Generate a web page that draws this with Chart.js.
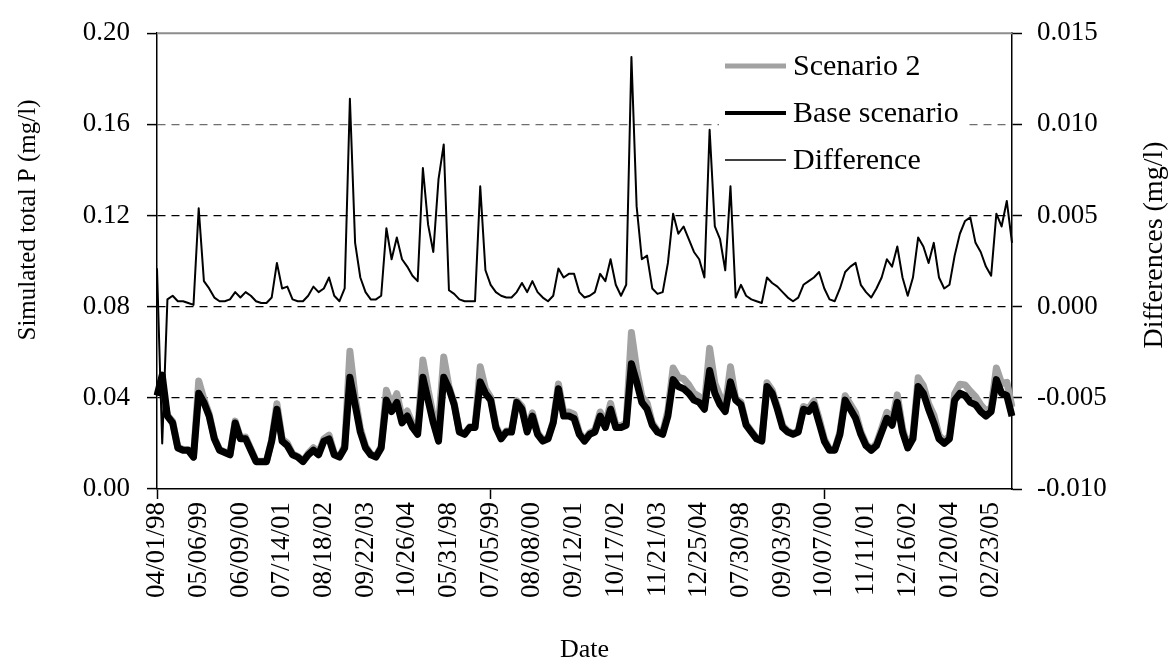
<!DOCTYPE html>
<html lang="en">
<head>
    <meta charset="UTF-8">
    <title>Simulated total P - Scenario 2 vs Base scenario</title>
    <script src="https://cdn.jsdelivr.net/npm/chart.js"></script>
    <style>
        body {
            margin: 0;
            background-color: #ffffff;
        }

        #chart-container {
            width: 1170px;
            height: 668px;
        }
    </style>
</head>
<body>

    <div id="chart-container">
        <canvas id="myChart" width="1170" height="668"></canvas>
    </div>

    <script>
        // labels shown every 8 points on the date axis
        var tickLabels = ['04/01/98', '05/06/99', '06/09/00', '07/14/01', '08/18/02', '09/22/03', '10/26/04',
            '05/31/98', '07/05/99', '08/08/00', '09/12/01', '10/17/02', '11/21/03', '12/25/04',
            '07/30/98', '09/03/99', '10/07/00', '11/11/01', '12/16/02', '01/20/04', '02/23/05'];
        var pointsPerTick = 8;

        // simulated total P, base scenario (mg/l)
        var baseScenario = [
            0.041, 0.050, 0.032, 0.029, 0.018, 0.017, 0.017, 0.014, 0.042, 0.038,
            0.032, 0.022, 0.017, 0.016, 0.015, 0.029, 0.022, 0.022, 0.017, 0.012,
            0.012, 0.012, 0.021, 0.035, 0.021, 0.019, 0.015, 0.014, 0.012, 0.015,
            0.017, 0.015, 0.021, 0.022, 0.015, 0.014, 0.018, 0.049, 0.037, 0.025,
            0.018, 0.015, 0.014, 0.018, 0.039, 0.034, 0.038, 0.029, 0.032, 0.027,
            0.024, 0.049, 0.039, 0.029, 0.021, 0.049, 0.044, 0.037, 0.025, 0.024,
            0.027, 0.027, 0.047, 0.042, 0.039, 0.027, 0.022, 0.025, 0.025, 0.038,
            0.035, 0.025, 0.032, 0.024, 0.021, 0.022, 0.029, 0.044, 0.032, 0.032,
            0.031, 0.024, 0.021, 0.024, 0.025, 0.032, 0.027, 0.035, 0.027, 0.027,
            0.028, 0.055, 0.047, 0.038, 0.035, 0.028, 0.025, 0.024, 0.032, 0.048,
            0.045, 0.044, 0.042, 0.039, 0.038, 0.035, 0.052, 0.042, 0.037, 0.034,
            0.047, 0.039, 0.037, 0.028, 0.025, 0.022, 0.021, 0.045, 0.042, 0.035,
            0.027, 0.025, 0.024, 0.025, 0.035, 0.034, 0.037, 0.029, 0.021, 0.017,
            0.017, 0.024, 0.039, 0.035, 0.031, 0.024, 0.019, 0.017, 0.019, 0.025,
            0.031, 0.028, 0.038, 0.025, 0.018, 0.022, 0.045, 0.042, 0.035, 0.029,
            0.022, 0.020, 0.022, 0.039, 0.042, 0.041, 0.038, 0.037, 0.034, 0.032,
            0.034, 0.048, 0.042, 0.041, 0.032
        ];

        // simulated total P, scenario 2 (mg/l)
        var scenario2 = [
            0.0431, 0.0425, 0.0324, 0.0296, 0.0183, 0.0173, 0.0172, 0.0141, 0.0474, 0.0394,
            0.0330, 0.0225, 0.0173, 0.0163, 0.0154, 0.0298, 0.0225, 0.0228, 0.0176, 0.0123,
            0.0122, 0.0122, 0.0215, 0.0374, 0.0220, 0.0201, 0.0154, 0.0143, 0.0123, 0.0156,
            0.0181, 0.0158, 0.0220, 0.0236, 0.0156, 0.0143, 0.0190, 0.0604, 0.0405, 0.0266,
            0.0188, 0.0154, 0.0144, 0.0186, 0.0433, 0.0366, 0.0418, 0.0316, 0.0342, 0.0287,
            0.0254, 0.0566, 0.0435, 0.0320, 0.0280, 0.0579, 0.0449, 0.0377, 0.0254, 0.0243,
            0.0273, 0.0273, 0.0536, 0.0440, 0.0402, 0.0278, 0.0226, 0.0255, 0.0255, 0.0388,
            0.0363, 0.0258, 0.0334, 0.0248, 0.0215, 0.0223, 0.0296, 0.0461, 0.0336, 0.0338,
            0.0328, 0.0248, 0.0215, 0.0246, 0.0258, 0.0338, 0.0284, 0.0376, 0.0282, 0.0276,
            0.0292, 0.0687, 0.0525, 0.0406, 0.0378, 0.0290, 0.0257, 0.0248, 0.0344, 0.0531,
            0.0490, 0.0484, 0.0457, 0.0420, 0.0406, 0.0366, 0.0617, 0.0464, 0.0407, 0.0360,
            0.0536, 0.0395, 0.0382, 0.0286, 0.0254, 0.0223, 0.0212, 0.0466, 0.0433, 0.0361,
            0.0278, 0.0255, 0.0243, 0.0255, 0.0362, 0.0354, 0.0386, 0.0309, 0.0220, 0.0174,
            0.0173, 0.0250, 0.0409, 0.0372, 0.0334, 0.0252, 0.0198, 0.0175, 0.0200, 0.0266,
            0.0336, 0.0302, 0.0413, 0.0266, 0.0186, 0.0236, 0.0488, 0.0453, 0.0374, 0.0325,
            0.0236, 0.0210, 0.0232, 0.0418, 0.0460, 0.0457, 0.0429, 0.0405, 0.0370, 0.0342,
            0.0357, 0.0531, 0.0464, 0.0468, 0.0360
        ];

        // scenario 2 minus base (mg/l), right axis
        var difference = [
            0.0021, -0.0075, 0.0004, 0.0006, 0.0003, 0.0003, 0.0002, 0.0001, 0.0054, 0.0014,
            0.0010, 0.0005, 0.0003, 0.0003, 0.0004, 0.0008, 0.0005, 0.0008, 0.0006, 0.0003,
            0.0002, 0.0002, 0.0005, 0.0024, 0.0010, 0.0011, 0.0004, 0.0003, 0.0003, 0.0006,
            0.0011, 0.0008, 0.0010, 0.0016, 0.0006, 0.0003, 0.0010, 0.0114, 0.0035, 0.0016,
            0.0008, 0.0004, 0.0004, 0.0006, 0.0043, 0.0026, 0.0038, 0.0026, 0.0022, 0.0017,
            0.0014, 0.0076, 0.0045, 0.0030, 0.0070, 0.0089, 0.0009, 0.0007, 0.0004, 0.0003,
            0.0003, 0.0003, 0.0066, 0.0020, 0.0012, 0.0008, 0.0006, 0.0005, 0.0005, 0.0008,
            0.0013, 0.0008, 0.0014, 0.0008, 0.0005, 0.0003, 0.0006, 0.0021, 0.0016, 0.0018,
            0.0018, 0.0008, 0.0005, 0.0006, 0.0008, 0.0018, 0.0014, 0.0026, 0.0012, 0.0006,
            0.0012, 0.0137, 0.0055, 0.0026, 0.0028, 0.0010, 0.0007, 0.0008, 0.0024, 0.0051,
            0.0040, 0.0044, 0.0037, 0.0030, 0.0026, 0.0016, 0.0097, 0.0044, 0.0037, 0.0020,
            0.0066, 0.0005, 0.0012, 0.0006, 0.0004, 0.0003, 0.0002, 0.0016, 0.0013, 0.0011,
            0.0008, 0.0005, 0.0003, 0.0005, 0.0012, 0.0014, 0.0016, 0.0019, 0.0010, 0.0004,
            0.0003, 0.0010, 0.0019, 0.0022, 0.0024, 0.0012, 0.0008, 0.0005, 0.0010, 0.0016,
            0.0026, 0.0022, 0.0033, 0.0016, 0.0006, 0.0016, 0.0038, 0.0033, 0.0024, 0.0035,
            0.0016, 0.0010, 0.0012, 0.0028, 0.0040, 0.0047, 0.0049, 0.0035, 0.0030, 0.0022,
            0.0017, 0.0051, 0.0044, 0.0058, 0.0035
        ];

        var fontFamily = "'Liberation Serif', 'Times New Roman', serif";

        // one category per point, only every 8th one gets a date
        var labels = baseScenario.map(function (v, i) {
            return i % pointsPerTick === 0 ? tickLabels[i / pointsPerTick] : '';
        });

        // legend box, axis titles and top frame
        var extrasPlugin = {
            id: 'extras',
            afterDatasetsDraw: function (chart) {
                var c = chart.ctx;
                var area = chart.chartArea;

                c.save();
                c.strokeStyle = '#8c8c8c';
                c.lineWidth = 2;
                c.beginPath();
                c.moveTo(area.left, area.top);
                c.lineTo(area.right, area.top);
                c.stroke();

                // legend
                c.fillStyle = '#ffffff';
                c.fillRect(719, 38, 248, 138);
                var entries = [
                    { ds: chart.data.datasets[0], w: 5 },
                    { ds: chart.data.datasets[1], w: 4 },
                    { ds: chart.data.datasets[2], w: 1.5 }
                ];
                c.font = '30px ' + fontFamily;
                c.textBaseline = 'middle';
                c.textAlign = 'left';
                entries.forEach(function (e, k) {
                    var y = 66 + k * 47;
                    c.strokeStyle = e.ds.borderColor;
                    c.lineWidth = e.w;
                    c.beginPath();
                    c.moveTo(725, y);
                    c.lineTo(786, y);
                    c.stroke();
                    c.fillStyle = '#000';
                    c.fillText(e.ds.label, 793, y + 1);
                });

                // axis titles
                c.fillStyle = '#000';
                c.textAlign = 'center';
                c.font = '25px ' + fontFamily;
                c.save();
                c.translate(28, 220);
                c.rotate(-Math.PI / 2);
                c.fillText('Simulated total P (mg/l)', 0, 0);
                c.restore();

                c.font = '28px ' + fontFamily;
                c.save();
                c.translate(1155, 245);
                c.rotate(-Math.PI / 2);
                c.fillText('Differences (mg/l)', 0, 0);
                c.restore();

                c.font = '26px ' + fontFamily;
                c.fillText('Date', (area.left + area.right) / 2, 650);
                c.restore();
            }
        };

        var ctx = document.getElementById('myChart').getContext('2d');
        var myChart = new Chart(ctx, {
            type: 'line',
            data: {
                labels: labels,
                datasets: [{
                    label: 'Scenario 2',
                    data: scenario2,
                    borderColor: '#a2a2a2',
                    borderWidth: 7,
                    yAxisID: 'y',
                    order: 2
                }, {
                    label: 'Base scenario',
                    data: baseScenario,
                    borderColor: '#000000',
                    borderWidth: 7,
                    yAxisID: 'y',
                    order: 1
                }, {
                    label: 'Difference',
                    data: difference,
                    borderColor: '#000000',
                    borderWidth: 2,
                    yAxisID: 'y1',
                    order: 0
                }]
            },
            options: {
                responsive: false,
                animation: false,
                layout: { padding: { top: 21 } },
                elements: {
                    point: { radius: 0 },
                    line: { tension: 0, borderJoinStyle: 'round', fill: false }
                },
                plugins: {
                    legend: { display: false },
                    tooltip: { enabled: false }
                },
                scales: {
                    x: {
                        type: 'category',
                        afterFit: function (scale) { scale.height = 179; },
                        grid: {
                            drawOnChartArea: false,
                            tickLength: 10,
                            tickWidth: 1.5,
                            tickColor: function (c) {
                                return c.index % pointsPerTick === 0 ? '#000' : 'rgba(0,0,0,0)';
                            }
                        },
                        border: { color: '#000', width: 1.5 },
                        ticks: {
                            autoSkip: false,
                            minRotation: 90,
                            maxRotation: 90,
                            padding: 3,
                            color: '#000',
                            font: { family: fontFamily, size: 27 },
                            callback: function (value) {
                                var l = this.getLabelForValue(value);
                                return l === '' ? null : l;
                            }
                        }
                    },
                    y: {
                        position: 'left',
                        min: 0,
                        max: 0.2,
                        afterFit: function (scale) { scale.width = 157; },
                        grid: {
                            tickLength: 10,
                            tickWidth: 1.5,
                            tickColor: '#000',
                            lineWidth: 1.2,
                            color: function (c) {
                                if (c.index === 0 || c.index === 5) return 'rgba(0,0,0,0)';
                                return c.index === 4 ? '#6e6e6e' : '#000';
                            }
                        },
                        border: { color: '#000', width: 1.5, dash: [8, 6] },
                        ticks: {
                            stepSize: 0.04,
                            padding: 17,
                            color: '#000',
                            font: { family: fontFamily, size: 27 },
                            callback: function (v) { return v.toFixed(2); }
                        }
                    },
                    y1: {
                        position: 'right',
                        min: -0.01,
                        max: 0.015,
                        afterFit: function (scale) { scale.width = 158; },
                        grid: {
                            drawOnChartArea: false,
                            tickLength: 10,
                            tickWidth: 1.5,
                            tickColor: '#000'
                        },
                        border: { color: '#000', width: 1.5 },
                        ticks: {
                            stepSize: 0.005,
                            padding: 15,
                            color: '#000',
                            font: { family: fontFamily, size: 27 },
                            callback: function (v) { return v.toFixed(3); }
                        }
                    }
                }
            },
            plugins: [extrasPlugin]
        });
    </script>

</body>
</html>
